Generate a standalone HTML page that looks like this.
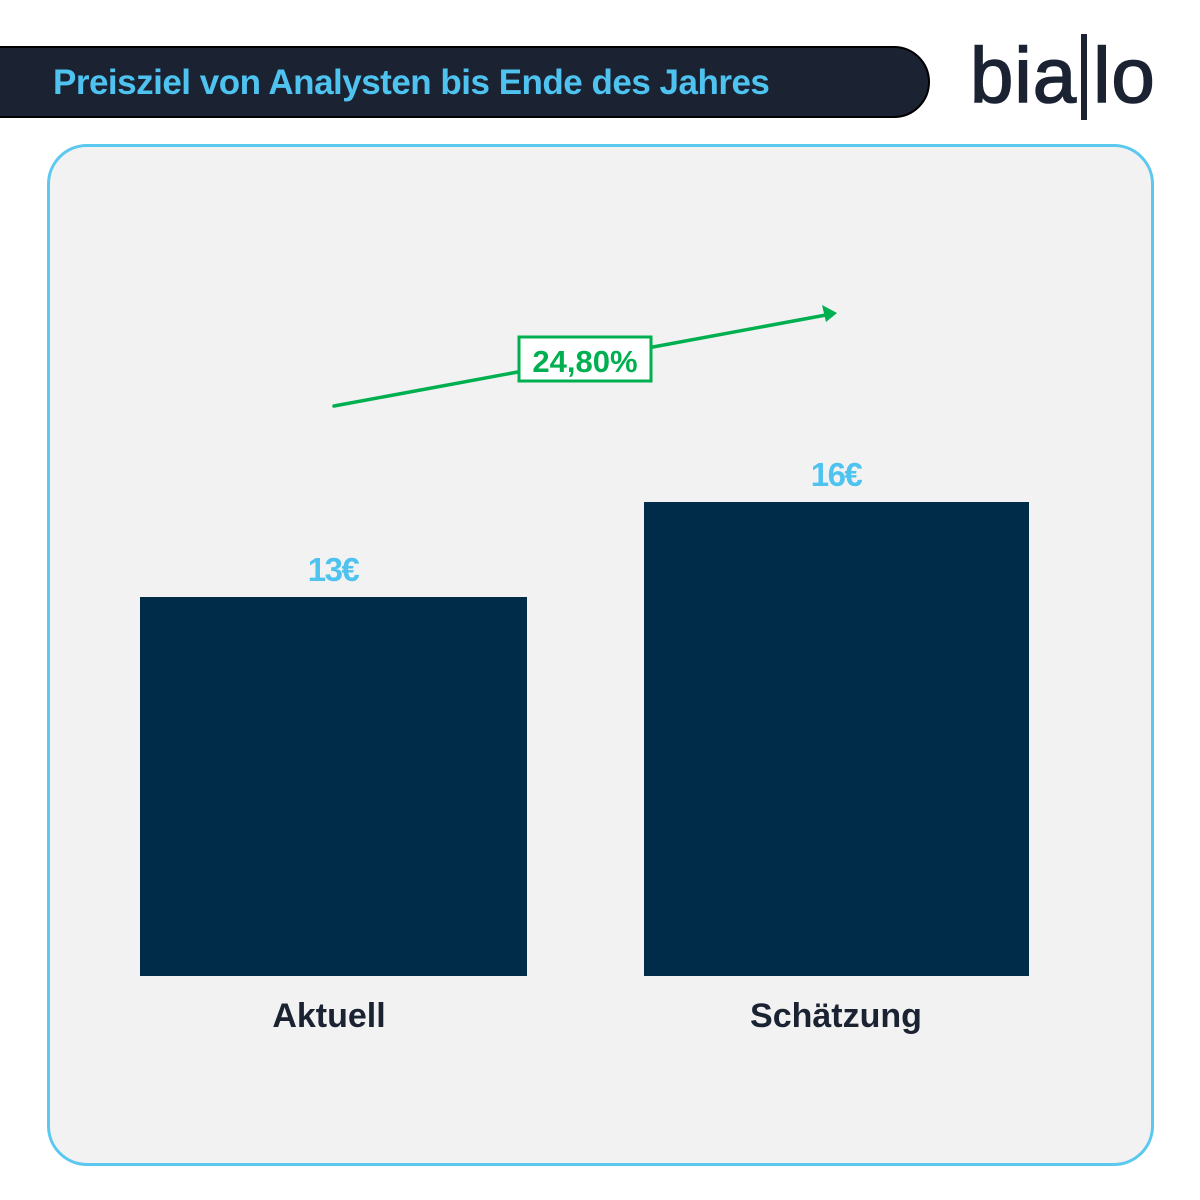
<!DOCTYPE html>
<html><head><meta charset="utf-8"><style>
body{margin:0;width:1200px;height:1200px;background:#fff;position:relative;overflow:hidden;font-family:"Liberation Sans",sans-serif}
.hdr{position:absolute;left:-4px;top:46px;width:934px;height:72px;background:#1b2333;border:2px solid #000;border-radius:0 40px 40px 0;box-sizing:border-box}
.ttl{position:absolute;left:53px;top:63px;font-size:35px;font-weight:bold;color:#4fc3f0;letter-spacing:-0.5px}
.logo{position:absolute;left:970px;top:30px;font-size:78px;color:#1b2333;letter-spacing:1px;-webkit-text-stroke:1.5px #1b2333}
.panel{position:absolute;left:47px;top:144px;width:1107px;height:1022px;background:#f2f2f2;border:3px solid #5bc8f0;border-radius:40px;box-sizing:border-box}
.bar{position:absolute;background:#002b49}
.v{position:absolute;font-size:33px;font-weight:bold;color:#4fc3f0;width:200px;text-align:center;letter-spacing:-1.5px}
.c{position:absolute;font-size:34px;font-weight:bold;color:#1b2333;width:300px;text-align:center}
</style></head><body>
<div class="hdr"></div>
<div class="ttl">Preisziel von Analysten bis Ende des Jahres</div>
<div class="logo">bia<span style="display:inline-block;width:6px;height:86px;background:#1b2333;margin:0 6px 0 4px;vertical-align:-18px"></span>lo</div>
<div class="panel"></div>
<svg style="position:absolute;left:0;top:0" width="1200" height="1200">
<line x1="334" y1="406" x2="826" y2="315" stroke="#00b050" stroke-width="3.5" stroke-linecap="round"/>
<polygon points="837,313 822,305 826,322" fill="#00b050"/>
<rect x="519" y="337" width="132" height="44" fill="#fff" stroke="#00b050" stroke-width="3"/>
<text x="585" y="372" text-anchor="middle" font-family="Liberation Sans" font-weight="bold" font-size="31" fill="#00b050">24,80%</text>
</svg>
<div class="bar" style="left:140px;top:597px;width:387px;height:379px"></div>
<div class="bar" style="left:644px;top:502px;width:385px;height:474px"></div>
<div class="v" style="left:233px;top:551px">13€</div>
<div class="v" style="left:736px;top:456px">16€</div>
<div class="c" style="left:179px;top:997px">Aktuell</div>
<div class="c" style="left:686px;top:997px">Schätzung</div>
</body></html>
